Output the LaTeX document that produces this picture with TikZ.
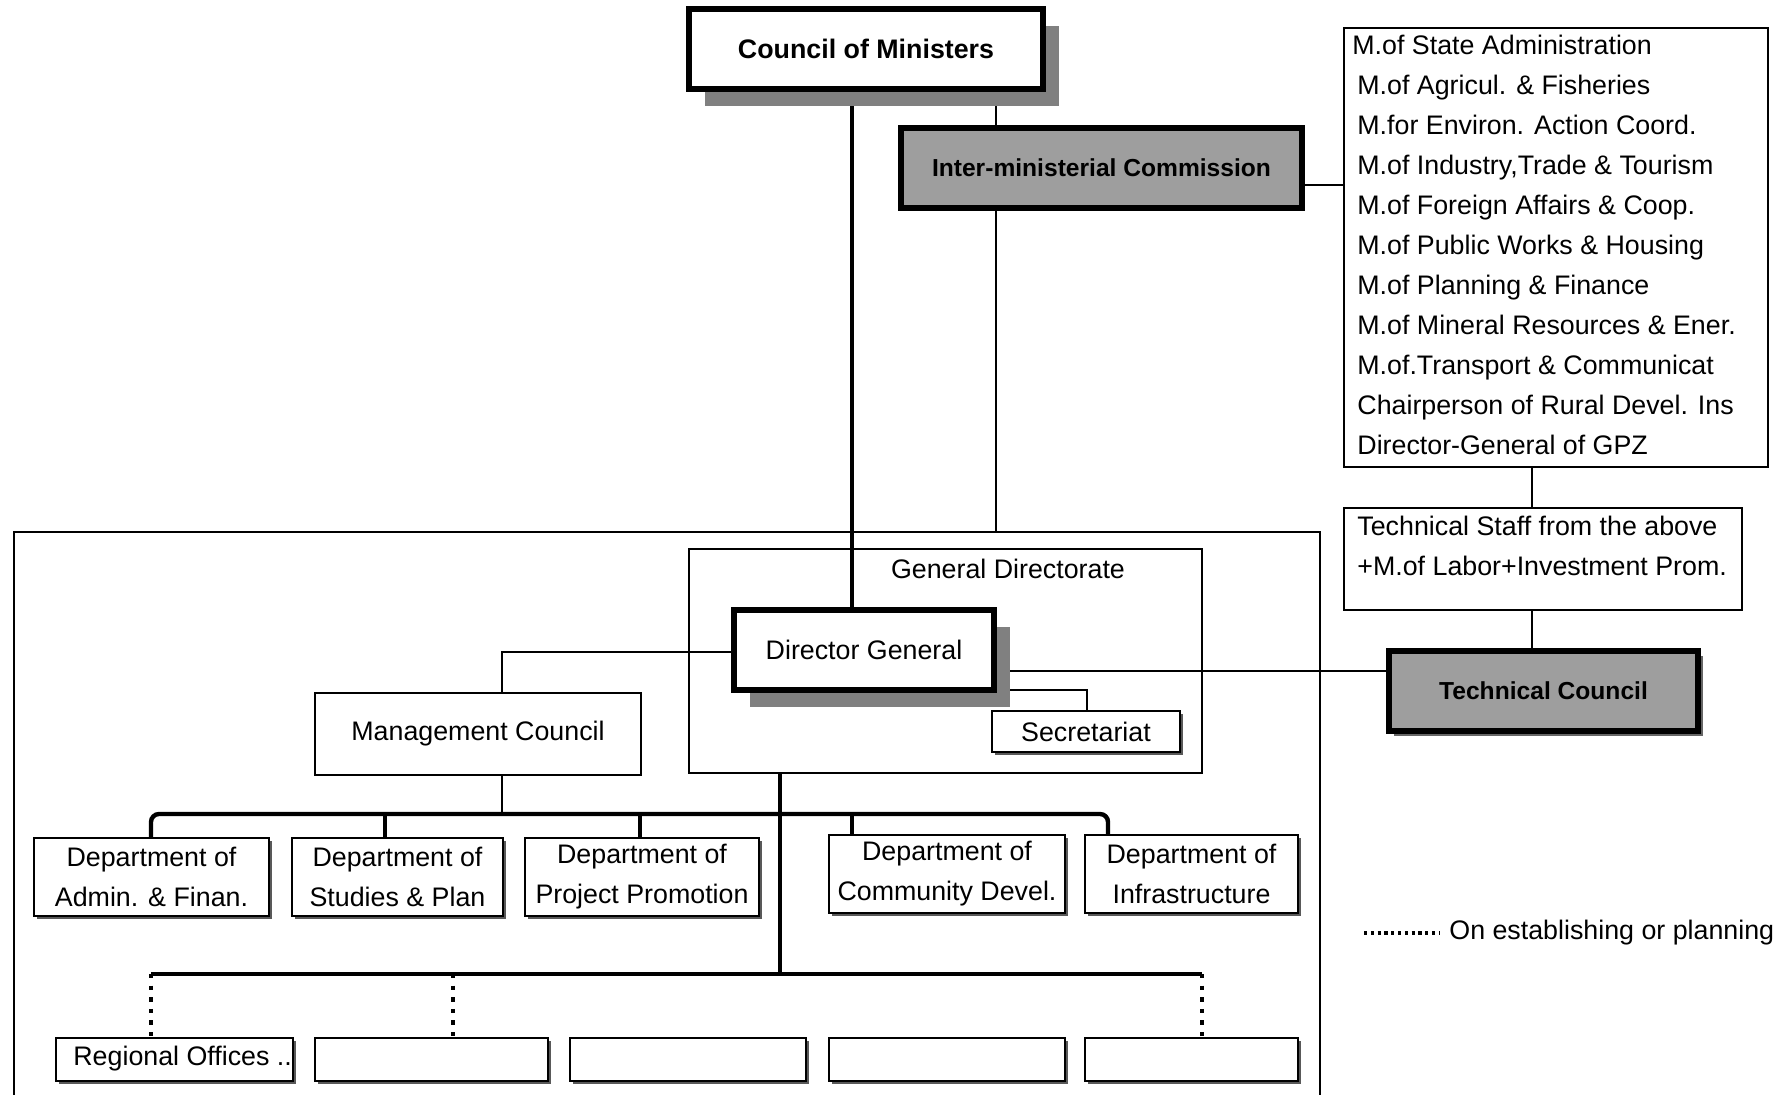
\documentclass[tikz,border=0pt]{standalone}
\usepackage{fontspec}
\setmainfont{Liberation Sans}
\usetikzlibrary{shadows,calc}
\pgfdeclarelayer{background}
\pgfsetlayers{background,main}

\begin{document}
\begin{tikzpicture}[x=0.5pt,y=-0.5pt,
  txt/.style={font=\fontsize{13.4}{20}\selectfont},
  % a rectangle given by its left, top, right and bottom edges
  span/.style n args={4}{minimum width={(#3-#1)*0.5pt}, minimum height={(#4-#2)*0.5pt},
                         at={({(#1+#3)/2},{(#2+#4)/2})}},
  plainbox/.style={draw, line width=0.7pt, fill=white, inner sep=0pt, align=center, txt},
  deptbox/.style={plainbox, line width=1.1pt, lightshadow},
  heavybox/.style={draw, line width=2.6pt, fill=white, inner sep=0pt, align=center, txt},
  graybox/.style={heavybox, fill=black!38, font=\fontsize{12.3}{16}\selectfont\bfseries},
  bigshadow/.style={drop shadow={shadow xshift=8pt, shadow yshift=-8.5pt, fill=black!50, opacity=1}},
  lightshadow/.style={drop shadow={shadow xshift=1.6pt, shadow yshift=-1.6pt, fill=black!65, opacity=1}},
  link/.style={line width=0.6pt},
  trunk/.style={line width=2.2pt},
  planned/.style={line width=2.2pt, dash pattern=on 2.2pt off 3.6pt},
  legenddots/.style={line width=1.6pt, dash pattern=on 1.6pt off 1.8pt},
  frame/.style={line width=0.7pt}]

\useasboundingbox (0,0) rectangle (1782,1095);

% reference positions of the connectors
\coordinate (xT) at (852,0);
\coordinate (xI) at (996,0);
\coordinate (xS) at (1532,0);
\coordinate (xM) at (502,0);
\coordinate (xSec) at (1087,0);
\coordinate (xC) at (780,0);
\coordinate (yI) at (0,185);
\coordinate (yD) at (0,671);
\coordinate (yM) at (0,652);
\coordinate (ySec) at (0,690);
\coordinate (yBus) at (0,814);
\coordinate (yBot) at (0,974);
\coordinate (yFrame) at (0,532);
\coordinate (s1) at (151,0);
\coordinate (s2) at (385,0);
\coordinate (s3) at (640,0);
\coordinate (s4) at (852,0);
\coordinate (s5) at (1108,0);
\coordinate (p1) at (151,0);
\coordinate (p2) at (453,0);
\coordinate (p3) at (1202,0);

% outer frame of the agency (open at the bottom)
\draw[frame] (14,1095) |- (1320,532) -- (1320,1095);

% top level
\node[heavybox, bigshadow, font=\fontsize{13.4}{20}\selectfont\bfseries,
      span={689}{9}{1043}{89}] (com) {Council of Ministers};
\node[graybox, lightshadow, span={901}{128}{1302}{208}] (imc) {Inter-ministerial Commission};

% ministries represented in the commission
\node[plainbox, line width=0.9pt, span={1344}{28}{1768}{467}] (list) {};
\node[txt, anchor=north west, align=left, inner sep=0pt] (listtxt) at (1357,35)
  {\hspace*{-2.5pt}M.of State Administration\\
   M.of Agricul. \& Fisheries\\
   M.for Environ. Action Coord.\\
   M.of Industry,Trade \& Tourism\\
   M.of Foreign Affairs \& Coop.\\
   M.of Public Works \& Housing\\
   M.of Planning \& Finance\\
   M.of Mineral Resources \& Ener.\\
   M.of.Transport \& Communicat\\
   Chairperson of Rural Devel. Ins\\
   Director-General of GPZ};

\node[plainbox, line width=0.9pt, span={1344}{508}{1742}{610}] (ts) {};
\node[txt, anchor=north west, align=left, inner sep=0pt] (tstxt) at (1357,516)
  {Technical Staff from the above\\ +M.of Labor+Investment Prom.};

\node[graybox, drop shadow={shadow xshift=2.5pt, shadow yshift=-2.5pt, fill=black!60, opacity=1},
      span={1389}{651}{1698}{731}] (tc) {Technical Council};

% general directorate
\node[draw, line width=0.7pt, inner sep=0pt, span={689}{549}{1202}{773}] (gd) {};
\node[txt, inner sep=0pt] (gdl) at (1008,569) {General Directorate};
\node[heavybox, bigshadow, span={734}{610}{994}{690}] (dg) {Director General};
\node[deptbox, line width=1.3pt, span={992}{711}{1180}{752}] (sec) {Secretariat};
\node[plainbox, span={315}{693}{641}{775}] (mc) {Management Council};

% departments
\node[deptbox, span={34}{838}{269}{916}] (d1) {Department of\\ Admin. \& Finan.};
\node[deptbox, span={292}{838}{503}{916}] (d2) {Department of\\ Studies \& Plan};
\node[deptbox, span={525}{838}{759}{916}] (d3) {Department of\\ Project Promotion};
\node[deptbox, span={829}{835}{1065}{913}] (d4) {Department of\\ Community Devel.};
\node[deptbox, span={1085}{835}{1298}{913}] (d5) {Department of\\ Infrastructure};

% regional offices
\node[deptbox, span={56}{1038}{293}{1081}] (b1) {};
\node[txt, anchor=west, inner sep=0pt] (b1txt) at (73,1059) {Regional Offices ..};
\node[deptbox, span={315}{1038}{548}{1081}] (b2) {};
\node[deptbox, span={570}{1038}{806}{1081}] (b3) {};
\node[deptbox, span={829}{1038}{1065}{1081}] (b4) {};
\node[deptbox, span={1085}{1038}{1298}{1081}] (b5) {};

% legend
\coordinate (legA) at (1364,933);
\node[txt, anchor=west, inner sep=0pt] (leg) at (1449,933) {On establishing or planning};
\draw[legenddots] (legA) -- ($(leg.west)+(-10,0)$);

\begin{pgfonlayer}{background}
  % chain of command
  \draw[trunk] (com.south -| xT) -- (dg.north -| xT);
  \draw[link] (com.south -| xI) -- (imc.north -| xI);
  \draw[link] (imc.south -| xI) -- (xI |- yFrame);
  \draw[link] (imc.east |- yI) -- (list.west |- yI);
  \draw[link] (list.south -| xS) -- (ts.north -| xS);
  \draw[link] (ts.south -| xS) -- (tc.north -| xS);
  \draw[link] (dg.east |- yD) -- (tc.west |- yD);
  \draw[link] (dg.east |- ySec) -| (sec.north -| xSec);
  \draw[link] (dg.west |- yM) -| (mc.north -| xM);
  \draw[link] (mc.south -| xM) -- (xM |- yBus);
  % departments
  \draw[trunk] (gd.south -| xC) -- (xC |- yBot);
  \draw[trunk, rounded corners=4pt] (d1.north -| s1) |- (xC |- yBus) -| (d5.north -| s5);
  \draw[trunk] (d2.north -| s2) -- (s2 |- yBus);
  \draw[trunk] (d3.north -| s3) -- (s3 |- yBus);
  \draw[trunk] (d4.north -| s4) -- (s4 |- yBus);
  % regional offices
  \draw[trunk] (p1 |- yBot) -- (p3 |- yBot);
  \draw[planned] (p1 |- yBot) -- (b1.north -| p1);
  \draw[planned] (p2 |- yBot) -- (b2.north -| p2);
  \draw[planned] (p3 |- yBot) -- (b5.north -| p3);
\end{pgfonlayer}
\end{tikzpicture}
\end{document}
